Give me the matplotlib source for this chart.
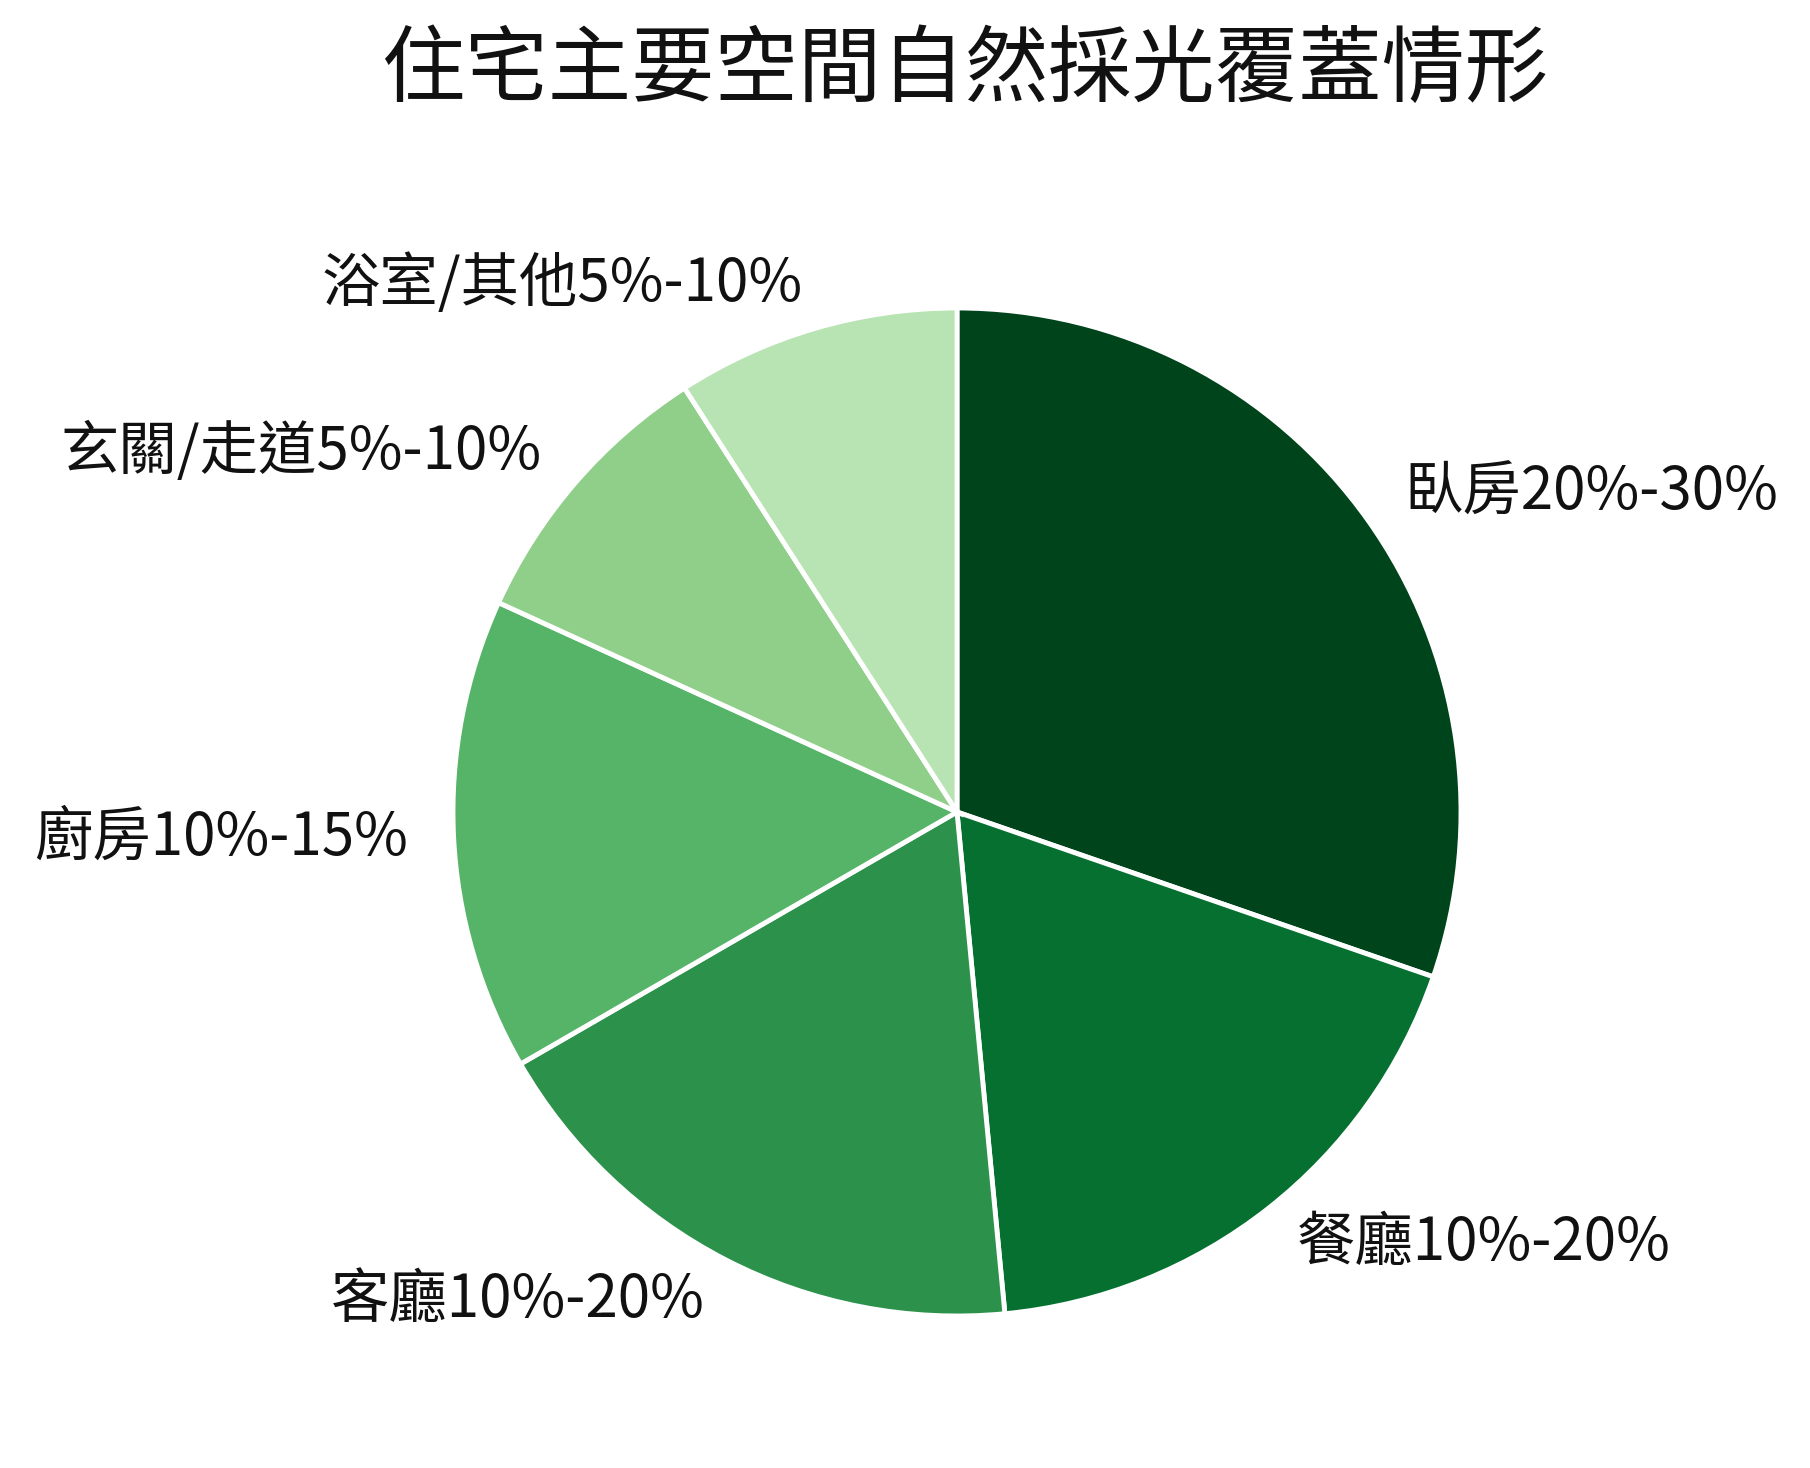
import matplotlib
matplotlib.use("Agg")
import matplotlib.pyplot as plt

plt.rcParams['font.family'] = ['Noto Sans CJK TC', 'DejaVu Sans']

labels = ["臥房20%-30%", "餐廳10%-20%", "客廳10%-20%", "廚房10%-15%", "玄關/走道5%-10%", "浴室/其他5%-10%"]
values = [25, 15, 15, 12.5, 7.5, 7.5]
colors = ["#00441b", "#067030", "#2c924b", "#55b467", "#8fcf89", "#b8e3b2"]

W, H = 1810, 1468
fig = plt.figure(figsize=(W/100, H/100), dpi=100)
cx, cy, r = 957, 656, 504
ax = fig.add_axes([(cx-r)/W, (cy-r)/H, 2*r/W, 2*r/H])
ax.pie(values, labels=labels, colors=colors, startangle=90, counterclock=False,
       labeldistance=1.09, wedgeprops=dict(edgecolor='white', linewidth=3.5),
       textprops=dict(fontsize=42, color='#111111'))
ax.set_xlim(-1, 1); ax.set_ylim(-1, 1)
ax.set_aspect('equal')
ax.axis('off')
fig.text(0.533, 0.952, "住宅主要空間自然採光覆蓋情形", ha='center', va='center', fontsize=60, color='#111111')
fig.savefig("out.png", dpi=100, facecolor='white')
